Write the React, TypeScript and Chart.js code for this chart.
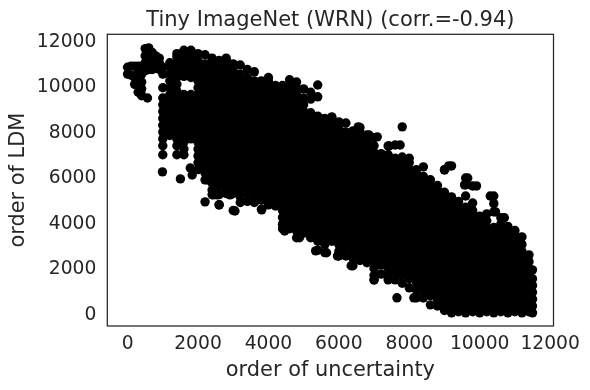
import React, { useEffect, useRef } from "react";
import { Chart, registerables } from "chart.js";

Chart.register(...registerables);

const chartTitle = "Tiny ImageNet (WRN) (corr.=-0.94)";
const xAxisLabel = "order of uncertainty";
const yAxisLabel = "order of LDM";
const xTickValues = [0, 2000, 4000, 6000, 8000, 10000, 12000];
const yTickValues = [0, 2000, 4000, 6000, 8000, 10000, 12000];

// order of uncertainty, one entry per column of points
const uncertaintyColumns = [
  0, 100, 200, 300, 400, 500, 600, 700, 800, 900, 1000, 1200, 1400, 1600, 1800, 2000, 2200, 2400, 2600, 2800,
  3000, 3200, 3400, 3600, 3800, 4000, 4200, 4400, 4600, 4800, 5000, 5200, 5400, 5600, 5800, 6000, 6200, 6400, 6600, 6800,
  7000, 7200, 7400, 7600, 7800, 8000, 8200, 8400, 8600, 8800, 9000, 9200, 9400, 9600, 9800, 10000, 10200, 10400, 10600, 10800,
  11000, 11200, 11400, 11500,
];

// order of LDM for each column above
const ldmColumns = [
  [10500, 10800],
  [10450, 10850],
  [10050, 10350, 10850],
  [9700, 10000, 10300, 10600, 10850],
  [9550, 9850, 10150, 10500, 10850],
  [10650, 11000, 11300, 11620],
  [10700, 11000, 11300, 11650],
  [10700, 11050, 11450],
  [10750, 11000, 11300],
  [10700, 11000, 11200],
  [6950, 7350, 7650, 7950, 8250, 8550, 8850, 9150, 9450, 9900, 10500, 10800],
  [7800, 8100, 8400, 8700, 9000, 9300, 9600, 9900, 10200, 10500, 10800, 11000],
  [6950, 7350, 7650, 7950, 8250, 8550, 8850, 9150, 9450, 9750, 10050, 10350, 10650, 10950, 11250, 11400],
  [6950, 7200, 7500, 7800, 8100, 8400, 8700, 9000, 9300, 9600, 10400, 10500, 10800, 11100, 11400, 11550],
  [7650, 7950, 8250, 8550, 8850, 9150, 9450, 9600, 10350, 10650, 10950, 11250, 11550],
  [6300, 6600, 6900, 7200, 7500, 7800, 8100, 8400, 8700, 9000, 9300, 9600, 9900, 10200, 10500, 10800, 11100, 11400],
  [5850, 6150, 6450, 6750, 7050, 7350, 7650, 7950, 8250, 8550, 8850, 9150, 9450, 9750, 10050, 10350, 10650, 10950, 11350],
  [5200, 5400, 5700, 6000, 6300, 6600, 6900, 7200, 7500, 7800, 8100, 8400, 8700, 9000, 9300, 9600, 9900, 10200, 10500, 10800, 11100, 11200],
  [4750, 5200, 5550, 5850, 6150, 6450, 6750, 7050, 7350, 7650, 7950, 8250, 8550, 8850, 9150, 9450, 9750, 10050, 10350, 10650, 10950, 11100],
  [5250, 5400, 5700, 6000, 6300, 6600, 6900, 7200, 7500, 7800, 8100, 8400, 8700, 9000, 9300, 9600, 9900, 10200, 10500, 10800, 11100, 11200],
  [4500, 5250, 5550, 5850, 6150, 6450, 6750, 7050, 7350, 7650, 7950, 8250, 8550, 8850, 9150, 9450, 9750, 10050, 10350, 10650, 10950],
  [4850, 5100, 5400, 5700, 6000, 6300, 6600, 6900, 7200, 7500, 7800, 8100, 8400, 8700, 9000, 9300, 9600, 9900, 10200, 10500, 10900],
  [4900, 5250, 5550, 5850, 6150, 6450, 6750, 7050, 7350, 7650, 7950, 8250, 8550, 8850, 9150, 9450, 9750, 10050, 10350, 10700],
  [4850, 5100, 5400, 5700, 6000, 6300, 6600, 6900, 7200, 7500, 7800, 8100, 8400, 8700, 9000, 9300, 9600, 9900, 10200, 10600],
  [4550, 4950, 5250, 5550, 5850, 6150, 6450, 6750, 7050, 7350, 7650, 7950, 8250, 8550, 8850, 9150, 9450, 9750, 10050, 10200],
  [4750, 5100, 5400, 5700, 6000, 6300, 6600, 6900, 7200, 7500, 7800, 8100, 8400, 8700, 9000, 9300, 9600, 9900, 10200, 10350],
  [4700, 4950, 5250, 5550, 5850, 6150, 6450, 6750, 7050, 7350, 7650, 7950, 8250, 8550, 8850, 9150, 9450, 9750, 10000],
  [3700, 3900, 4200, 4500, 4800, 5100, 5400, 5700, 6000, 6300, 6600, 6900, 7200, 7500, 7800, 8100, 8400, 8700, 9000, 9300, 9600, 9900, 10000],
  [3700, 4050, 4350, 4650, 4950, 5250, 5550, 5850, 6150, 6450, 6750, 7050, 7350, 7650, 7950, 8250, 8550, 8850, 9150, 9450, 9750, 10050, 10250],
  [3300, 3600, 3900, 4200, 4500, 4800, 5100, 5400, 5700, 6000, 6300, 6600, 6900, 7200, 7500, 7800, 8100, 8400, 8700, 9000, 9300, 9600, 9900, 10150],
  [3500, 3750, 4050, 4350, 4650, 4950, 5250, 5550, 5850, 6150, 6450, 6750, 7050, 7350, 7650, 7950, 8250, 8550, 8850, 9150, 9450, 9850],
  [3300, 3600, 3900, 4200, 4500, 4800, 5100, 5400, 5700, 6000, 6300, 6600, 6900, 7200, 7500, 7800, 8100, 8400, 8700, 8800, 9400, 9700],
  [2750, 3150, 3450, 3750, 4050, 4350, 4650, 4950, 5250, 5550, 5850, 6150, 6450, 6750, 7050, 7350, 7650, 7950, 8250, 8550, 8650, 9500, 10020],
  [2650, 3000, 3300, 3600, 3900, 4200, 4500, 4800, 5100, 5400, 5700, 6000, 6300, 6600, 6900, 7200, 7500, 7800, 8100, 8400, 8550],
  [3150, 3450, 3750, 4050, 4350, 4650, 4950, 5250, 5550, 5850, 6150, 6450, 6750, 7050, 7350, 7650, 7950, 8250, 8550, 8620],
  [2500, 2700, 3000, 3300, 3600, 3900, 4200, 4500, 4800, 5100, 5400, 5700, 6000, 6300, 6600, 6900, 7200, 7500, 7800, 8100, 8400],
  [2500, 2850, 3150, 3450, 3750, 4050, 4350, 4650, 4950, 5250, 5550, 5850, 6150, 6450, 6750, 7050, 7350, 7650, 7950, 8350],
  [2070, 2400, 2700, 3000, 3300, 3600, 3900, 4200, 4500, 4800, 5100, 5400, 5700, 6000, 6300, 6600, 6900, 7200, 7500, 7800, 8000],
  [2300, 2550, 2850, 3150, 3450, 3750, 4050, 4350, 4650, 4950, 5250, 5550, 5850, 6150, 6450, 6750, 7050, 7350, 7650, 7950, 8150],
  [2200, 2400, 2700, 3000, 3300, 3600, 3900, 4200, 4500, 4800, 5100, 5400, 5700, 6000, 6300, 6600, 6900, 7200, 7500, 7820],
  [1450, 1650, 1950, 2250, 2550, 2850, 3150, 3450, 3750, 4050, 4350, 4650, 4950, 5250, 5550, 5850, 6150, 6450, 6750, 7050, 7350, 7700],
  [1700, 2100, 2400, 2700, 3000, 3300, 3600, 3900, 4200, 4500, 4800, 5100, 5400, 5700, 6000, 6300, 6600, 6900, 7000],
  [1450, 1650, 1950, 2250, 2550, 2850, 3150, 3450, 3750, 4050, 4350, 4650, 4950, 5250, 5550, 5850, 6150, 6450, 6750, 6950, 7340],
  [1450, 1800, 2100, 2400, 2700, 3000, 3300, 3600, 3900, 4200, 4500, 4800, 5100, 5400, 5700, 6000, 6300, 6600, 6800, 7380],
  [1300, 1650, 1950, 2250, 2550, 2850, 3150, 3450, 3750, 4050, 4350, 4650, 4950, 5250, 5550, 5850, 6150, 6450, 6750, 6850, 8180],
  [1100, 1500, 1800, 2100, 2400, 2700, 3000, 3300, 3600, 3900, 4200, 4500, 4800, 5100, 5400, 5700, 6000, 6300, 6600, 6800],
  [660, 1010, 1350, 1650, 1950, 2250, 2550, 2850, 3150, 3450, 3750, 4050, 4350, 4650, 4950, 5250, 5550, 5850, 6150, 6300],
  [650, 900, 1200, 1500, 1800, 2100, 2400, 2700, 3000, 3300, 3600, 3900, 4200, 4500, 4800, 5100, 5400, 5700, 6000, 6420],
  [350, 750, 1050, 1350, 1650, 1950, 2250, 2550, 2850, 3150, 3450, 3750, 4050, 4350, 4650, 4950, 5250, 5550, 5850],
  [300, 600, 900, 1200, 1500, 1800, 2100, 2400, 2700, 3000, 3300, 3600, 3900, 4200, 4500, 4800, 5100, 5400, 5600],
  [100, 450, 750, 1050, 1350, 1650, 1950, 2250, 2550, 2850, 3150, 3450, 3750, 4050, 4350, 4650, 4950, 5250, 5300, 6290],
  [0, 300, 600, 900, 1200, 1500, 1800, 2100, 2400, 2700, 3000, 3300, 3600, 3900, 4200, 4500, 4800, 5100, 6460],
  [50, 150, 450, 750, 1050, 1350, 1650, 1950, 2250, 2550, 2850, 3150, 3450, 3750, 4050, 4350, 4650, 4900],
  [0, 300, 600, 900, 1200, 1500, 1800, 2100, 2400, 2700, 3000, 3300, 3600, 3900, 4200, 4500, 4650, 5140, 5630, 5930],
  [50, 150, 450, 750, 1050, 1350, 1650, 1950, 2250, 2550, 2850, 3150, 3450, 3750, 4050, 4350, 4500, 4830, 5580],
  [0, 300, 600, 900, 1200, 1500, 1800, 2100, 2400, 2700, 3000, 3300, 3600, 3900, 4250],
  [50, 150, 450, 750, 1050, 1350, 1650, 1950, 2250, 2550, 2850, 3150, 3450, 3750, 4050, 4350],
  [0, 300, 600, 900, 1200, 1500, 1800, 2100, 2400, 2700, 3000, 3300, 3600, 3750, 4440, 4800, 5140],
  [50, 150, 450, 750, 1050, 1350, 1650, 1950, 2250, 2550, 2850, 3150, 3450, 3750, 3900, 4180],
  [0, 300, 600, 900, 1200, 1500, 1800, 2100, 2400, 2700, 3000, 3300, 3600, 3800],
  [50, 150, 450, 750, 1050, 1350, 1650, 1950, 2250, 2550, 2850, 3150, 3450, 3620],
  [0, 300, 600, 900, 1200, 1500, 1800, 2100, 2400, 2700, 3000, 3340],
  [50, 150, 450, 750, 1050, 1350, 1650, 1950, 2250, 2550],
  [0, 300, 600, 900, 1200, 1500, 1890],
];

// marks that stand apart from the columns
const strayUncertainty = [565, 990, 1500, 1780, 1835, 2200, 2260, 2430, 2540, 2600, 2910, 3050, 3810, 4460, 4880, 5340, 5650, 5960, 6350, 7000, 7650, 8130, 9000, 9120, 9570, 9660, 9910, 10300, 10450, 10700, 7090, 7430, 7740, 6550, 6860];
const strayLdm = [9450, 6200, 5890, 6370, 6060, 4880, 5850, 5190, 5190, 4750, 5190, 4480, 4530, 3600, 3300, 2725, 2640, 2500, 2070, 1450, 660, 660, 6290, 6460, 5630, 5930, 5580, 5140, 4440, 4180, 7740, 7340, 7380, 8180, 7820];

const inkColor = "#262626";
const fontFamily = "'DejaVu Sans', sans-serif";

export default function App() {
  const ref = useRef<HTMLCanvasElement | null>(null);

  useEffect(() => {
    const canvas = ref.current;
    if (!canvas) return;
    document.body.style.margin = "0";
    const points: { x: number; y: number }[] = [];
    uncertaintyColumns.forEach((x, i) => {
      ldmColumns[i].forEach((y) => points.push({ x, y }));
    });
    strayUncertainty.forEach((x, i) => points.push({ x, y: strayLdm[i] }));

    const frame = {
      id: "frame",
      beforeDraw(chart: any) {
        // the y tick digits sit slightly above the tick position otherwise
        const yScale = chart.scales.y;
        if (!yScale.$shifted) {
          yScale.getLabelItems(chart.chartArea).forEach((item: any) => {
            item.options.translation[1] += 2;
          });
          yScale.$shifted = true;
        }
      },
      afterDraw(chart: any) {
        const { left, top, width, height } = chart.chartArea;
        const ctx = chart.ctx;
        ctx.save();
        ctx.strokeStyle = inkColor;
        ctx.lineWidth = 1.25;
        ctx.strokeRect(left, top, width, height);
        ctx.restore();
      },
    };

    const chart = new Chart(canvas, {
      type: "scatter",
      data: {
        datasets: [
          {
            data: points,
            backgroundColor: "#000000",
            borderWidth: 0,
            pointRadius: 4.7,
            pointHoverRadius: 4.7,
            clip: false,
          },
        ],
      },
      plugins: [frame],
      options: {
        animation: false,
        responsive: false,
        layout: { padding: { left: 0, right: 36.5, top: 0, bottom: 0 } },
        plugins: {
          legend: { display: false },
          tooltip: { enabled: false },
          title: {
            display: true,
            text: chartTitle,
            fullSize: false,
            color: inkColor,
            font: { family: fontFamily, size: 21, weight: "normal", lineHeight: 1.2 },
            padding: { top: 8.4, bottom: 0.7 },
          },
        },
        scales: {
          x: {
            type: "linear",
            min: -576,
            max: 12096,
            afterBuildTicks: (s: any) => {
              s.ticks = xTickValues.map((value) => ({ value }));
            },
            afterFit: (s: any) => {
              s.height = 64;
            },
            grid: { display: false, drawTicks: false },
            border: { display: false },
            ticks: {
              color: inkColor,
              padding: 6.6,
              autoSkip: false,
              maxRotation: 0,
              font: { family: fontFamily, size: 18.7 },
              callback: (v: any) => String(v),
            },
            title: {
              display: true,
              text: xAxisLabel,
              color: inkColor,
              font: { family: fontFamily, size: 20.9 },
              padding: { top: 2, bottom: 6.4 },
            },
          },
          y: {
            type: "linear",
            min: -580,
            max: 12250,
            afterBuildTicks: (s: any) => {
              s.ticks = yTickValues.map((value) => ({ value }));
            },
            afterFit: (s: any) => {
              s.width = 107.3;
            },
            grid: { display: false, drawTicks: false },
            border: { display: false },
            ticks: {
              color: inkColor,
              padding: 11,
              autoSkip: false,
              font: { family: fontFamily, size: 18.7 },
              callback: (v: any) => String(v),
            },
            title: {
              display: true,
              text: yAxisLabel,
              color: inkColor,
              font: { family: fontFamily, size: 20.9 },
              padding: { top: 6.4, bottom: 0 },
            },
          },
        },
      },
    } as any);
    return () => chart.destroy();
  }, []);

  return (
    <canvas
      ref={ref}
      width={590}
      height={390}
      style={{ display: "block", width: 590, height: 390, background: "#ffffff" }}
    />
  );
}
